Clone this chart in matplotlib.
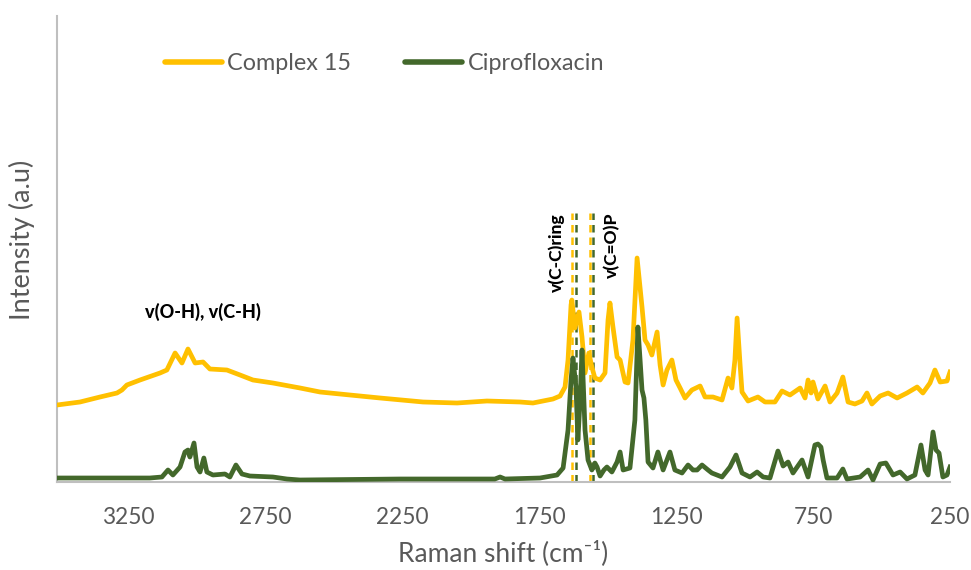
import matplotlib
matplotlib.use("Agg")
import matplotlib.pyplot as plt

# ---- data (Raman shift in cm-1, intensity in arbitrary units) ----
complex_shift = [3509, 3425, 3352, 3290, 3272, 3254, 3206, 3133, 3108, 3078, 3053, 3031, 3005, 2976,
                 2951, 2889, 2841, 2794, 2721, 2622, 2549, 2440, 2330, 2173, 2049, 1940, 1819, 1772,
                 1699, 1673, 1655, 1644, 1633, 1630, 1619, 1604, 1593, 1582, 1568, 1557, 1546, 1527,
                 1509, 1498, 1491, 1480, 1465, 1454, 1436, 1425, 1407, 1392, 1374, 1363, 1352, 1338,
                 1319, 1308, 1297, 1283, 1265, 1250, 1235, 1217, 1192, 1162, 1144, 1115, 1082, 1060,
                 1046, 1035, 1027, 1016, 1009, 987, 951, 925, 889, 863, 834, 797, 779, 768, 757, 750,
                 732, 706, 688, 662, 641, 622, 597, 571, 553, 535, 505, 476, 443, 407, 370, 349, 323,
                 305, 286, 261, 250]
complex_int = [77, 80, 85, 89, 92, 97, 102, 109, 112, 129, 119, 133, 119, 120,
               113, 112, 107, 102, 99, 94, 90, 87, 84, 80, 79, 81, 80, 79,
               83, 86, 95, 122, 177, 182, 154, 170, 145, 109, 129, 115, 104, 102,
               109, 162, 179, 155, 125, 122, 100, 99, 142, 224, 175, 142, 137, 127,
               150, 117, 97, 112, 122, 102, 94, 84, 92, 96, 85, 85, 82, 104,
               94, 122, 164, 117, 90, 81, 85, 80, 80, 91, 87, 94, 84, 102, 89, 100,
               83, 96, 80, 89, 105, 80, 78, 81, 89, 78, 86, 89, 84, 89, 95, 89, 99,
               112, 100, 101, 110]

cipro_shift = [3509, 3170, 3126, 3104, 3086, 3060, 3042, 3031, 3024, 3009, 2998, 2987, 2973, 2962,
               2940, 2896, 2878, 2856, 2834, 2805, 2721, 2670, 2622, 2257, 1911, 1892, 1874, 1746,
               1684, 1662, 1644, 1633, 1626, 1615, 1608, 1600, 1593, 1582, 1571, 1557, 1546, 1538,
               1527, 1513, 1502, 1484, 1465, 1454, 1443, 1418, 1400, 1389, 1381, 1374, 1367, 1360,
               1352, 1334, 1316, 1297, 1272, 1254, 1228, 1206, 1188, 1173, 1155, 1133, 1119, 1082,
               1053, 1031, 1009, 980, 954, 932, 907, 878, 859, 841, 823, 790, 768, 743, 732, 721,
               713, 699, 662, 641, 626, 578, 549, 531, 505, 484, 458, 432, 407, 378, 356, 341, 330,
               312, 301, 290, 276, 261, 250]
cipro_int = [4, 4, 5, 12, 7, 15, 30, 32, 25, 39, 15, 10, 24, 10,
             7, 8, 5, 17, 8, 6, 5, 3, 2, 3, 3, 5, 3, 4,
             7, 14, 52, 102, 124, 95, 42, 82, 132, 52, 22, 12, 19, 15,
             6, 12, 15, 10, 20, 30, 12, 14, 62, 155, 122, 92, 84, 62,
             20, 14, 30, 12, 30, 12, 9, 17, 12, 12, 17, 12, 9, 5,
             15, 27, 9, 5, 10, 5, 4, 31, 16, 20, 9, 22, 5, 37, 38, 35,
             22, 4, 4, 13, 3, 5, 12, 2, 18, 19, 7, 10, 3, 7, 37, 12, 7,
             50, 32, 29, 5, 7, 15]

complex_marks = [1628, 1564]   # dashed reference lines, Complex 15
cipro_marks = [1615, 1552]     # dashed reference lines, Ciprofloxacin

series_names = ["Complex 15", "Ciprofloxacin"]
x_ticks = [3250, 2750, 2250, 1750, 1250, 750, 250]

ORANGE = "#FFC000"
GREEN = "#43682B"
GREY_TXT = "#595959"
FONT = ["Lato", "DejaVu Sans"]

plt.rcParams["font.family"] = FONT

fig = plt.figure(figsize=(9.71, 5.70), dpi=100)
ax = fig.add_axes([57 / 971, 88 / 570, 893 / 971, 466 / 570])

ax.plot(complex_shift, complex_int, color=ORANGE, lw=3.4, label=series_names[0],
        solid_joinstyle="round", zorder=3)
ax.plot(cipro_shift, cipro_int, color=GREEN, lw=3.4, label=series_names[1],
        solid_joinstyle="round", zorder=4)

for xv in complex_marks:
    ax.plot([xv, xv], [0, 269], color=ORANGE, lw=1.8, ls=(0, (3, 2)), zorder=2)
for xv in cipro_marks:
    ax.plot([xv, xv], [0, 269], color=GREEN, lw=1.8, ls=(0, (3, 2)), zorder=2)

ax.set_xlim(3509, 250)
ax.set_ylim(0, 466)
ax.set_xticks(x_ticks)
ax.set_xticklabels([str(t) for t in x_ticks])
ax.set_yticks([])
ax.tick_params(axis="x", length=0, pad=18, labelsize=16.3, labelcolor=GREY_TXT)

for s in ["top", "right"]:
    ax.spines[s].set_visible(False)
for s in ["left", "bottom"]:
    ax.spines[s].set_color("#BFBFBF")
    ax.spines[s].set_linewidth(1.5)

ax.set_xlabel("Raman shift (cm⁻¹)", fontsize=19, color=GREY_TXT, va="center")
ax.xaxis.set_label_coords(0.5, -0.152)
ax.set_ylabel("Intensity (a.u)", fontsize=19.5, color=GREY_TXT, va="center")
ax.yaxis.set_label_coords(-0.039, 0.52)

ax.text(2976, 170, "v(O-H), v(C-H)", fontsize=13, fontweight="black", ha="center", va="center")
ax.text(1684, 269, "v(C-C)ring", fontsize=12.5, fontweight="black", rotation=90, ha="center", va="top")
ax.text(1484, 269, "v(C=O)P", fontsize=12.5, fontweight="black", rotation=90, ha="center", va="top")

leg = fig.legend(loc="center", bbox_to_anchor=(384.5 / 971, (570 - 64) / 570), ncol=2,
                 frameon=False, fontsize=16.8, handlelength=2.45, handletextpad=0.22,
                 columnspacing=2.3, borderpad=0)
for t in leg.get_texts():
    t.set_color(GREY_TXT)
for h in leg.get_lines():
    h.set_linewidth(4)
    h.set_solid_capstyle("round")

fig.savefig("out.png", dpi=100)
